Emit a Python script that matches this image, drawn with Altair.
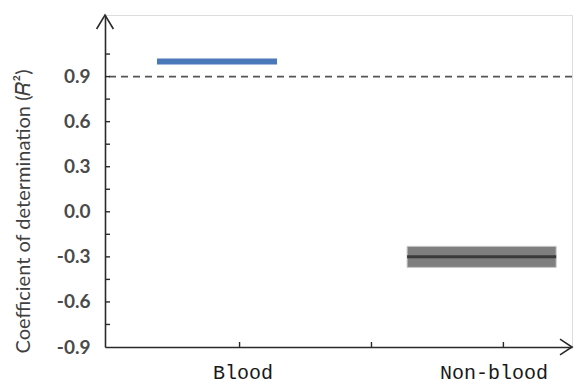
import altair as alt
import pandas as pd

# ---- data ----
groups = ["Blood", "Non-blood"]
group_pos = [1.0, 2.0]
r2_center = [1.0, -0.30]
r2_low = [1.0, -0.37]
r2_high = [1.0, -0.23]
seg_start = [0.687, 1.635]
seg_end = [1.142, 2.200]

threshold = [0.9]
y_major = [-0.9, -0.6, -0.3, 0.0, 0.3, 0.6, 0.9]
y_ticks = [-0.75, -0.6, -0.45, -0.3, -0.15, 0.0, 0.15, 0.3, 0.45, 0.6, 0.75, 0.9, 1.05]
x_ticks = [1.0, 1.5, 2.0]

W, H = 467, 332
X_DOMAIN = [0.49, 2.26]
Y_DOMAIN = [-0.9, 1.31]

df = pd.DataFrame({"group": groups, "pos": group_pos, "c": r2_center,
                   "lo": r2_low, "hi": r2_high, "x0": seg_start, "x1": seg_end})
blood = df[df.group == "Blood"]
nonblood = df[df.group == "Non-blood"]

xscale = alt.Scale(domain=X_DOMAIN, nice=False, zero=False)
yscale = alt.Scale(domain=Y_DOMAIN, nice=False, zero=False)

label_expr = " : ".join(
    [f"datum.value == {p} ? '{g}'" for p, g in zip(group_pos, groups)] + ["''"])

xaxis = alt.Axis(values=group_pos, labelExpr=label_expr, ticks=False, grid=False,
                 domainColor="#2a2a2a", domainWidth=1.6, labelFont="Liberation Mono",
                 labelFontSize=20, labelColor="#1a1a1a", labelPadding=15,
                 labelOffset=alt.ExprRef("datum.value > 1.5 ? -10 : 3"),
                 title=None)
yaxis = alt.Axis(values=y_major,
                 labelExpr="replace(format(datum.value, '.1f'), '\u2212', '-')",
                 ticks=False, grid=False,
                 domainColor="#2a2a2a", domainWidth=1.6, labelFont="Lato",
                 labelFontSize=19, labelFontWeight="bold", labelColor="#4a4a4a",
                 labelPadding=15, title="Coefficient of determination (𝑅²)",
                 titleFont="Lato", titleFontSize=20, titleFontWeight="normal",
                 titleColor="#404040", titleX=-82, titleY=196, titleAngle=270,
                 titleAlign="center", titleBaseline="middle")


def X(f):
    return alt.X(f, type="quantitative", scale=xscale, axis=xaxis)


def Y(f):
    return alt.Y(f, type="quantitative", scale=yscale, axis=yaxis)


tick_df = pd.DataFrame({"t": y_ticks})
xt_df = pd.DataFrame({"t": x_ticks})
thr_df = pd.DataFrame({"v": threshold})

dashed = alt.Chart(thr_df).mark_rule(color="#555555", strokeWidth=1.8,
                                     strokeDash=[7, 5]).encode(y=Y("v"))

yt = alt.Chart(tick_df).mark_rule(color="#2a2a2a", strokeWidth=1.4).encode(
    y=Y("t"), x=alt.value(0), x2=alt.value(5))
xt = alt.Chart(xt_df).mark_rule(color="#2a2a2a", strokeWidth=1.4).encode(
    x=X("t"), y=alt.value(H), y2=alt.value(H - 5))

blue = alt.Chart(blood).mark_rule(color="#4a78b8", strokeWidth=6).encode(
    x=X("x0"), x2="x1", y=Y("c"))

band = alt.Chart(nonblood).mark_rect(color="#7f7f7f", stroke="#c8c8c8",
                                     strokeWidth=1).encode(
    x=X("x0"), x2="x1", y=Y("lo"), y2="hi")
mid = alt.Chart(nonblood).mark_rule(color="#3a3a3a", strokeWidth=3).encode(
    x=X("x0"), x2="x1", y=Y("c"))

# axis arrow heads at the ends of the axes
arrow_df = pd.DataFrame({"x": [X_DOMAIN[0]], "y": [Y_DOMAIN[1]],
                         "xe": [X_DOMAIN[1]], "ye": [Y_DOMAIN[0]]})
up_arrow = alt.Chart(arrow_df).mark_point(
    shape="M -0.6 1 L 0 0 L 0.6 1", filled=False, color="#2a2a2a",
    strokeWidth=1.6, size=784, opacity=1, clip=False).encode(x=X("x"), y=Y("y"))
right_arrow = alt.Chart(arrow_df).mark_point(
    shape="M -1 -0.65 L 0 0 L -1 0.65", filled=False, color="#2a2a2a",
    strokeWidth=1.6, size=576, opacity=1, clip=False).encode(x=X("xe"), y=Y("ye"))

chart = alt.layer(dashed, yt, xt, blue, band, mid, up_arrow, right_arrow).properties(
    width=W, height=H,
    autosize=alt.AutoSizeParams(type="none"),
    padding={"left": 105, "top": 15, "right": 2, "bottom": 36},
).configure_view(stroke=None).configure(background="white")

chart.save("out.html", embed_options={"renderer": "svg", "actions": False})
